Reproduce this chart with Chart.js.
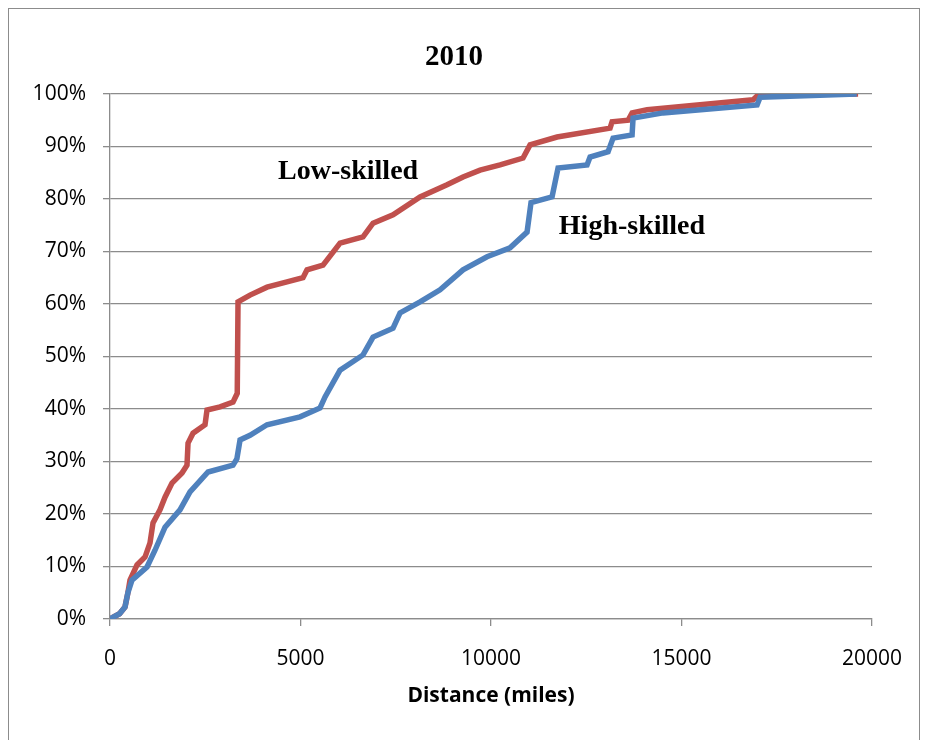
<!DOCTYPE html>
<html>
<head>
<meta charset="utf-8">
<script src="https://cdn.jsdelivr.net/npm/chart.js@4/dist/chart.umd.min.js"></script>
<style>
  html, body { margin: 0; padding: 0; background: #fff; }
  #wrap { width: 925px; height: 740px; }
</style>
</head>
<body>
<div id="wrap"><canvas id="distChart" width="925" height="740"></canvas></div>
<script>
// Data: distance (miles) and cumulative share (%)
const lowDist = [0, 250, 394, 470, 525, 709, 919, 1050, 1129, 1312, 1444, 1627, 1890, 2021, 2048, 2179, 2494, 2546, 2888, 3229, 3340, 3360, 3675, 4121, 4646, 5066, 5171, 5591, 6038, 6641, 6904, 7429, 8138, 8846, 9266, 9713, 10238, 10841, 11025, 11734, 13125, 13178, 13598, 13703, 14096, 16879, 17010, 19635];
const lowShare = [0, 1, 2.3, 5, 7.4, 10.3, 11.8, 14.5, 18.3, 20.8, 23.2, 25.9, 27.8, 29.3, 33.5, 35.4, 37, 39.8, 40.4, 41.3, 43, 60.4, 61.7, 63.2, 64.2, 65, 66.5, 67.4, 71.6, 72.8, 75.4, 77, 80.4, 82.7, 84.2, 85.5, 86.5, 87.8, 90.3, 91.8, 93.5, 94.7, 95, 96.4, 97, 98.9, 99.8, 100];

const highDist = [0, 250, 394, 470, 577, 971, 1181, 1444, 1837, 2100, 2573, 3229, 3330, 3413, 3675, 4121, 4988, 5513, 5644, 6038, 6641, 6904, 7429, 7613, 8138, 8663, 9266, 9896, 10500, 10946, 11050, 11603, 11760, 12521, 12600, 13073, 13204, 13703, 13729, 14516, 16984, 17063, 19600];
const highShare = [0, 1, 2.3, 5, 7.4, 9.9, 13.1, 17.5, 20.8, 24.2, 28, 29.3, 30.5, 34.1, 35, 37, 38.5, 40.2, 42.3, 47.4, 50.3, 53.7, 55.4, 58.3, 60.4, 62.7, 66.5, 69, 70.7, 73.7, 79.3, 80.4, 85.9, 86.5, 88, 89, 91.6, 92.2, 95.4, 96.4, 97.9, 99.4, 100];

const xTicks = [0, 5000, 10000, 15000, 20000];
const chartTitle = '2010';
const seriesNames = ['Low-skilled', 'High-skilled'];
// where the series names sit (in data units)
const labelSpots = [[6250, 85.2], [13700, 74.8]];

const tickFont = "'Open Sans', 'Liberation Sans', sans-serif";
const serifFont = "'Liberation Serif', 'DejaVu Serif', serif";

function toPoints(xs, ys) {
    return xs.map((x, i) => ({ x: x, y: ys[i] }));
}

// Frame, title and series names
const decor = {
    id: 'decor',
    beforeDraw(chart) {
        const c = chart.ctx;
        c.save();
        c.strokeStyle = '#8c8c8c';
        c.lineWidth = 1;
        c.strokeRect(8.5, 8.5, 911, 740);
        c.restore();
    },
    afterDraw(chart) {
        const c = chart.ctx;
        const xs = chart.scales.x, ys = chart.scales.y;
        c.save();
        c.fillStyle = '#000';
        c.textAlign = 'center';
        c.textBaseline = 'middle';
        c.font = "bold 29px " + serifFont;
        c.fillText(chartTitle, 454, 58);
        c.font = "bold 28px " + serifFont;
        seriesNames.forEach((name, i) => {
            c.fillText(name, xs.getPixelForValue(labelSpots[i][0]), ys.getPixelForValue(labelSpots[i][1]));
        });
        c.restore();
    }
};

const ctx = document.getElementById('distChart').getContext('2d');
new Chart(ctx, {
    type: 'line',
    data: {
        datasets: [
            {
                label: seriesNames[1],
                data: toPoints(highDist, highShare),
                borderColor: '#4f81bd',
                borderWidth: 5.5,
                pointRadius: 0,
                tension: 0
            },
            {
                label: seriesNames[0],
                data: toPoints(lowDist, lowShare),
                borderColor: '#c0504d',
                borderWidth: 5.5,
                pointRadius: 0,
                tension: 0
            }
        ]
    },
    options: {
        responsive: false,
        animation: false,
        layout: { padding: { top: 94, right: 53, left: 0, bottom: 26 } },
        plugins: {
            legend: { display: false },
            tooltip: { enabled: false }
        },
        scales: {
            x: {
                type: 'linear',
                min: 0,
                max: 20000,
                afterBuildTicks: s => { s.ticks = xTicks.map(v => ({ value: v })); },
                ticks: {
                    color: '#000',
                    font: { family: tickFont, size: 21 },
                    padding: 20,
                    maxRotation: 0,
                    callback: v => String(v)
                },
                grid: { drawOnChartArea: false, drawTicks: true, tickLength: 7, color: '#8c8c8c', lineWidth: 1.3 },
                border: { display: true, color: '#8c8c8c', width: 1.3 },
                title: {
                    display: true,
                    text: 'Distance (miles)',
                    color: '#000',
                    font: { family: "'Open Sans', 'Liberation Sans', sans-serif", size: 21, weight: 'bold' },
                    padding: { top: 0, bottom: 5 }
                },
                afterFit: s => { s.height = 95; }
            },
            y: {
                min: 0,
                max: 100,
                ticks: {
                    stepSize: 10,
                    color: '#000',
                    font: { family: tickFont, size: 21 },
                    padding: 17,
                    callback: v => v + '%'
                },
                grid: { color: '#8c8c8c', lineWidth: 1.3, tickLength: 7 },
                border: { display: true, color: '#8c8c8c', width: 1.3 },
                afterFit: s => { s.width = 110; }
            }
        }
    },
    plugins: [decor]
});
</script>
</body>
</html>
